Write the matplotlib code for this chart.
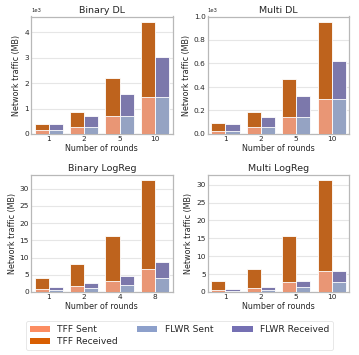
import matplotlib
matplotlib.use("Agg")
import matplotlib.pyplot as plt
import seaborn as sns
import numpy as np
from matplotlib.patches import Patch

sns.set_theme(style="whitegrid")
plt.rcParams['font.family'] = ['DejaVu Sans']

titles = ["Binary DL", "Multi DL", "Binary LogReg", "Multi LogReg"]
rounds = [["1", "2", "5", "10"], ["1", "2", "5", "10"],
          ["1", "2", "4", "8"], ["1", "2", "5", "10"]]

# MB values: sent and total (sent + received)
tff_sent = [[140, 280, 710, 1470], [28, 58, 148, 298],
            [0.85, 1.8, 3.3, 6.6], [0.6, 1.2, 2.9, 5.9]]
tff_total = [[410, 860, 2190, 4410], [92, 183, 471, 949],
             [4.1, 8.1, 16.3, 32.5], [3.1, 6.3, 15.6, 31.3]]
flwr_sent = [[140, 280, 710, 1470], [28, 58, 148, 298],
             [0.6, 1.15, 2.1, 4.2], [0.4, 0.6, 1.5, 2.8]]
flwr_total = [[410, 700, 1580, 3030], [83, 146, 323, 623],
              [1.55, 2.6, 4.57, 8.6], [0.93, 1.4, 3.1, 5.9]]

labels = ["TFF Sent", "TFF Received", "FLWR Sent", "FLWR Received"]
base_colors = ["#fc8d62", "#d95f02", "#8da0cb", "#7570b3"]
bar_colors = [sns.desaturate(c, 0.75) for c in base_colors]

fig = plt.figure(figsize=(3.59, 3.55), dpi=100)
W = 141.7 / 359
H = 117.5 / 355
positions = [(31 / 359, 1 - 134 / 355), (207.7 / 359, 1 - 134 / 355),
             (31 / 359, 1 - 292 / 355), (207.7 / 359, 1 - 292 / 355)]

for i in range(4):
    ax = fig.add_axes([positions[i][0], positions[i][1], W, H])
    x = np.arange(len(rounds[i]))
    w = 0.4
    ax.bar(x - w / 2, tff_total[i], width=w, color=bar_colors[1], edgecolor="white", linewidth=0.6, zorder=2)
    ax.bar(x - w / 2, tff_sent[i], width=w, color=bar_colors[0], edgecolor="white", linewidth=0.6, zorder=3)
    ax.bar(x + w / 2, flwr_total[i], width=w, color=bar_colors[3], edgecolor="white", linewidth=0.6, zorder=2)
    ax.bar(x + w / 2, flwr_sent[i], width=w, color=bar_colors[2], edgecolor="white", linewidth=0.6, zorder=3)
    ax.set_xlim(-0.5, len(x) - 0.5)
    ax.set_xticks(x)
    ax.set_xticklabels(rounds[i])
    ax.xaxis.grid(False)
    ax.yaxis.grid(True, color="#e6e6e6", linewidth=0.8)
    ax.set_axisbelow(True)
    ax.set_title(titles[i], fontsize=6.8, pad=2.5)
    ax.set_xlabel("Number of rounds", fontsize=5.8, labelpad=1.5)
    ax.set_ylabel("Network traffic (MB)", fontsize=5.8, labelpad=2)
    ax.tick_params(axis="both", labelsize=5.3, pad=1.5, length=0)
    for s in ax.spines.values():
        s.set_color("#b8b8b8")
        s.set_linewidth(0.9)
    if i < 2:
        ax.ticklabel_format(axis="y", style="sci", scilimits=(3, 3))
        ax.yaxis.get_offset_text().set_fontsize(3.8)
    if i == 1:
        ax.set_ylim(0, 1000)
        ax.set_yticks([0, 200, 400, 600, 800, 1000])
    if i >= 2:
        ax.set_yticks([0, 5, 10, 15, 20, 25, 30])

handles = [Patch(facecolor=c, edgecolor="none") for c in base_colors]
leg = fig.legend(handles, labels, ncol=3, loc="lower left",
                 bbox_to_anchor=(26 / 359, 5 / 355, 307 / 359, 31 / 355),
                 mode="expand", fontsize=6.6, frameon=True,
                 handlelength=2.2, handleheight=0.6, labelspacing=0.35,
                 borderpad=0.4, borderaxespad=0)
leg.get_frame().set_edgecolor("#dddddd")
leg.get_frame().set_linewidth(0.6)

fig.savefig("out.png", dpi=100)
